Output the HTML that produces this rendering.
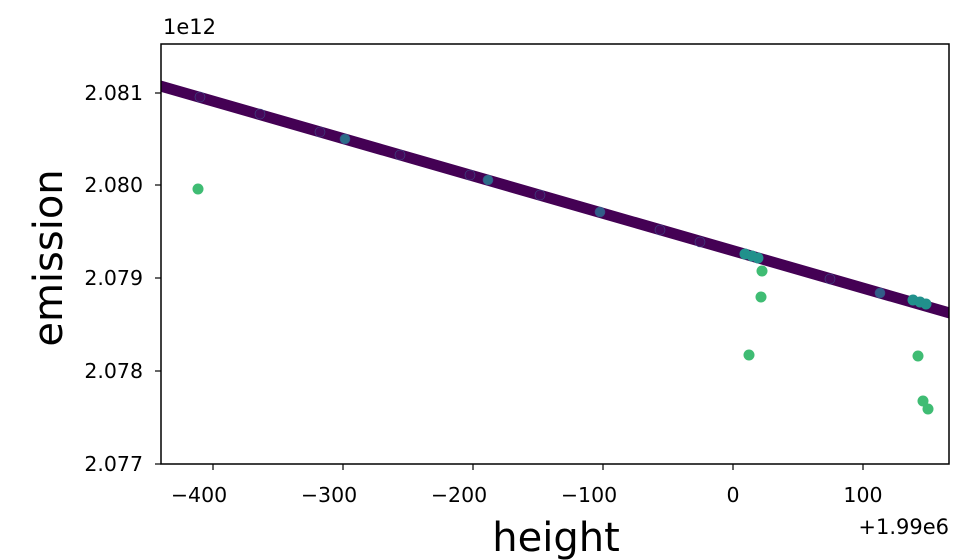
<!DOCTYPE html>
<html><head><style>
body{margin:0;background:#fff}
svg{display:block;font-family:"DejaVu Sans","Liberation Sans",sans-serif}
</style></head><body>
<svg width="974" height="560" viewBox="0 0 974 560">
<defs><clipPath id="c"><rect x="161" y="44" width="788" height="420"/></clipPath></defs>
<g clip-path="url(#c)">
<line x1="150" y1="83" x2="960" y2="316" stroke="#440154" stroke-width="11" stroke-linecap="round"/>
<g fill="#46085c" stroke="#3b528b" stroke-width="0.6" opacity="0.9">
<circle cx="200" cy="97" r="5"/><circle cx="260" cy="114" r="5"/><circle cx="320" cy="132" r="5"/>
<circle cx="345" cy="139" r="5" fill="#2a788e"/><circle cx="400" cy="155" r="5"/><circle cx="470" cy="175" r="5"/>
<circle cx="488" cy="180" r="5" fill="#2a788e"/><circle cx="540" cy="195" r="5"/><circle cx="600" cy="212" r="5" fill="#31688e"/>
<circle cx="660" cy="230" r="5"/><circle cx="700" cy="242" r="5"/><circle cx="830" cy="279" r="5"/><circle cx="880" cy="293" r="5" fill="#31688e"/>
</g>
<g fill="#21918c">
<circle cx="745" cy="254" r="5.5"/><circle cx="752" cy="256" r="5.5"/><circle cx="758" cy="258" r="5.5"/>
<circle cx="913" cy="300" r="5.5"/><circle cx="920" cy="302" r="5.5"/><circle cx="926" cy="304" r="5.5"/>
</g>
<g fill="#3fbc73">
<circle cx="198" cy="189" r="5.5"/><circle cx="762" cy="271" r="5.5"/><circle cx="761" cy="297" r="5.5"/>
<circle cx="749" cy="355" r="5.5"/><circle cx="918" cy="356" r="5.5"/><circle cx="923" cy="401" r="5.5"/><circle cx="928" cy="409" r="5.5"/>
</g>
</g>
<rect x="161" y="44" width="788" height="420" fill="none" stroke="#000" stroke-width="1.5"/>
<g stroke="#000" stroke-width="1.2">
<line x1="155" y1="93" x2="161" y2="93"/><line x1="155" y1="185" x2="161" y2="185"/><line x1="155" y1="278" x2="161" y2="278"/><line x1="155" y1="371" x2="161" y2="371"/><line x1="155" y1="464" x2="161" y2="464"/>
<line x1="213" y1="464" x2="213" y2="470"/><line x1="343" y1="464" x2="343" y2="470"/><line x1="473" y1="464" x2="473" y2="470"/><line x1="603" y1="464" x2="603" y2="470"/><line x1="733" y1="464" x2="733" y2="470"/><line x1="863" y1="464" x2="863" y2="470"/>
</g>
<g font-size="20.5" fill="#000" text-anchor="end">
<text x="143" y="100">2.081</text><text x="143" y="192">2.080</text><text x="143" y="285">2.079</text><text x="143" y="378">2.078</text><text x="143" y="471">2.077</text>
</g>
<g font-size="20.5" fill="#000" text-anchor="middle">
<text x="199" y="502">−400</text><text x="329" y="502">−300</text><text x="459" y="502">−200</text><text x="589" y="502">−100</text><text x="733" y="502">0</text><text x="863" y="502">100</text>
</g>
<text x="163" y="34" font-size="21">1e12</text>
<text x="949" y="534" font-size="21" text-anchor="end">+1.99e6</text>
<text x="556" y="551" font-size="40" text-anchor="middle">height</text>
<text transform="translate(62,258) rotate(-90)" font-size="40" text-anchor="middle">emission</text>
</svg>
</body></html>
